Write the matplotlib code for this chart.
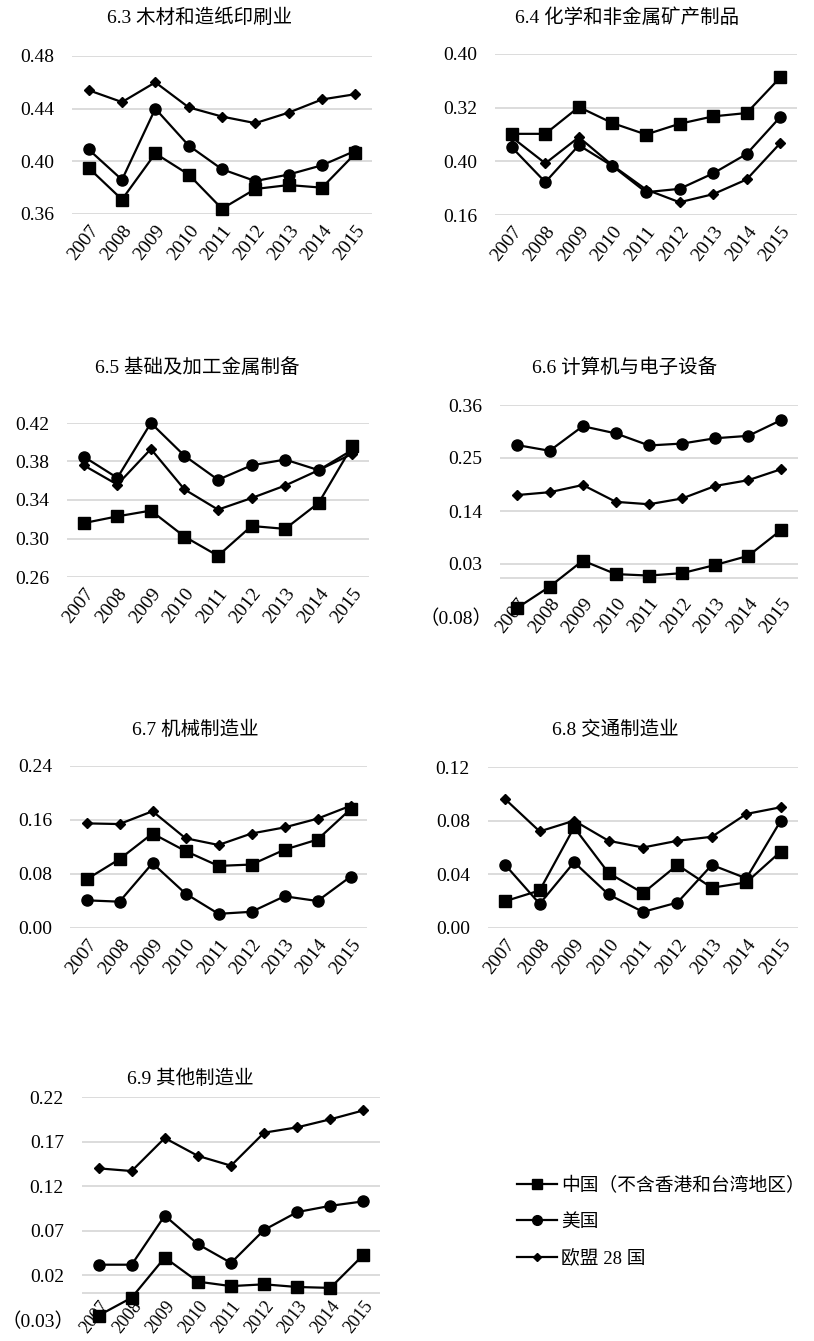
import matplotlib.pyplot as plt
from matplotlib.lines import Line2D
from matplotlib.transforms import ScaledTranslation

plt.rcParams['font.family'] = ['Liberation Serif', 'Noto Sans CJK SC']

years = ['2007', '2008', '2009', '2010', '2011', '2012', '2013', '2014', '2015']

# 6.3 木材和造纸印刷业
wood_cn = [0.395, 0.371, 0.406, 0.390, 0.364, 0.379, 0.382, 0.380, 0.406]
wood_us = [0.409, 0.386, 0.440, 0.412, 0.394, 0.385, 0.390, 0.397, 0.408]
wood_eu = [0.454, 0.445, 0.460, 0.441, 0.434, 0.429, 0.437, 0.447, 0.451]

# 6.4 化学和非金属矿产制品
chem_cn = [0.281, 0.281, 0.321, 0.297, 0.280, 0.296, 0.307, 0.312, 0.365]
chem_us = [0.261, 0.209, 0.264, 0.233, 0.194, 0.199, 0.222, 0.251, 0.306]
chem_eu = [0.276, 0.237, 0.276, 0.234, 0.198, 0.179, 0.191, 0.213, 0.267]

# 6.5 基础及加工金属制备
metal_cn = [0.316, 0.323, 0.329, 0.302, 0.282, 0.313, 0.310, 0.337, 0.396]
metal_us = [0.385, 0.363, 0.420, 0.386, 0.361, 0.376, 0.382, 0.371, 0.392]
metal_eu = [0.376, 0.356, 0.393, 0.351, 0.330, 0.342, 0.355, 0.371, 0.388]

# 6.6 计算机与电子设备
elec_cn = [-0.062, -0.017, 0.037, 0.009, 0.006, 0.011, 0.028, 0.047, 0.101]
elec_us = [0.277, 0.265, 0.316, 0.301, 0.276, 0.280, 0.291, 0.296, 0.329]
elec_eu = [0.173, 0.179, 0.194, 0.159, 0.154, 0.166, 0.192, 0.204, 0.227]

# 6.7 机械制造业
mach_cn = [0.072, 0.102, 0.140, 0.114, 0.092, 0.094, 0.116, 0.131, 0.176]
mach_us = [0.041, 0.039, 0.096, 0.051, 0.021, 0.024, 0.047, 0.040, 0.076]
mach_eu = [0.155, 0.154, 0.173, 0.133, 0.123, 0.140, 0.149, 0.162, 0.181]

# 6.8 交通制造业
trans_cn = [0.020, 0.028, 0.075, 0.041, 0.026, 0.047, 0.030, 0.034, 0.057]
trans_us = [0.047, 0.018, 0.049, 0.025, 0.012, 0.019, 0.047, 0.037, 0.080]
trans_eu = [0.096, 0.072, 0.080, 0.065, 0.060, 0.065, 0.068, 0.085, 0.090]

# 6.9 其他制造业
other_cn = [-0.025, -0.005, 0.040, 0.013, 0.008, 0.010, 0.007, 0.006, 0.043]
other_us = [0.032, 0.032, 0.087, 0.055, 0.034, 0.071, 0.091, 0.098, 0.103]
other_eu = [0.140, 0.137, 0.174, 0.154, 0.143, 0.180, 0.186, 0.195, 0.205]

series_names = ['中国（不含香港和台湾地区）', '美国', '欧盟 28 国']

W, H = 814, 1341
fig = plt.figure(figsize=(W / 100, H / 100), dpi=100, facecolor='white')

# panel layout in pixels: axes box (x0, x1, ytop, ybottom), title centre,
# x-label pad (pt) and x-label size
panels = [
    dict(title='6.3 木材和造纸印刷业', data=(wood_cn, wood_us, wood_eu),
         ticks=[0.36, 0.40, 0.44, 0.48], labels=['0.36', '0.40', '0.44', '0.48'],
         grid=[0.36, 0.40, 0.44, 0.48], box=(72, 372, 56, 214), tpos=(200, 18), xpad=6, xsize=14),
    dict(title='6.4 化学和非金属矿产制品', data=(chem_cn, chem_us, chem_eu),
         ticks=[0.16, 0.24, 0.32, 0.40], labels=['0.16', '0.40', '0.32', '0.40'],
         grid=[0.16, 0.24, 0.32, 0.40], box=(495, 797, 54, 215), tpos=(627, 18), xpad=6, xsize=14),
    dict(title='6.5 基础及加工金属制备', data=(metal_cn, metal_us, metal_eu),
         ticks=[0.26, 0.30, 0.34, 0.38, 0.42], labels=['0.26', '0.30', '0.34', '0.38', '0.42'],
         grid=[0.26, 0.30, 0.34, 0.38, 0.42], box=(67, 369, 423, 577), tpos=(197, 368), xpad=6, xsize=14),
    dict(title='6.6 计算机与电子设备', data=(elec_cn, elec_us, elec_eu),
         ticks=[-0.08, 0.03, 0.14, 0.25, 0.36], labels=['（0.08）', '0.03', '0.14', '0.25', '0.36'],
         grid=[0.0, 0.03, 0.14, 0.25, 0.36], box=(500, 798, 405, 617), tpos=(625, 368), xpad=-16, xsize=14),
    dict(title='6.7 机械制造业', data=(mach_cn, mach_us, mach_eu),
         ticks=[0.00, 0.08, 0.16, 0.24], labels=['0.00', '0.08', '0.16', '0.24'],
         grid=[0.00, 0.08, 0.16, 0.24], box=(70, 367, 766, 928), tpos=(195, 730), xpad=6, xsize=14),
    dict(title='6.8 交通制造业', data=(trans_cn, trans_us, trans_eu),
         ticks=[0.00, 0.04, 0.08, 0.12], labels=['0.00', '0.04', '0.08', '0.12'],
         grid=[0.00, 0.04, 0.08, 0.12], box=(488, 798, 767, 928), tpos=(615, 730), xpad=6, xsize=14),
    dict(title='6.9 其他制造业', data=(other_cn, other_us, other_eu),
         ticks=[-0.03, 0.02, 0.07, 0.12, 0.17, 0.22], labels=['（0.03）', '0.02', '0.07', '0.12', '0.17', '0.22'],
         grid=[0.0, 0.02, 0.07, 0.12, 0.17, 0.22], box=(82, 380, 1097, 1320), tpos=(190, 1079), xpad=-16, xsize=13),
]

styles = [dict(marker='s', ms=8.5), dict(marker='o', ms=8), dict(marker='D', ms=5)]

x = list(range(len(years)))
for p in panels:
    x0, x1, yt, yb = p['box']
    ax = fig.add_axes([x0 / W, 1 - yb / H, (x1 - x0) / W, (yb - yt) / H])
    for g in p['grid']:
        ax.axhline(g, color='#d9d9d9', lw=1.3, zorder=1)
    for vals, st in zip(p['data'], styles):
        ax.plot(x, vals, color='black', lw=1.6, mec='black', mfc='black',
                zorder=3, clip_on=False, **st)
    ax.set_xlim(-0.5, len(years) - 0.5)
    ax.set_ylim(p['ticks'][0], p['ticks'][-1])
    ax.set_yticks(p['ticks'], p['labels'])
    ax.set_xticks(x, years)
    plt.setp(ax.get_xticklabels(), rotation=52, ha='right', rotation_mode='anchor')
    ax.tick_params(axis='y', length=0, pad=13, labelsize=14)
    ax.tick_params(axis='x', length=0, pad=p['xpad'], labelsize=p['xsize'])
    # negative values in brackets sit a little further right
    for lab in ax.get_yticklabels():
        if lab.get_text().startswith('（'):
            lab.set_transform(lab.get_transform() + ScaledTranslation(0.11, 0, fig.dpi_scale_trans))
    for s in ax.spines.values():
        s.set_visible(False)
    ax.patch.set_alpha(0)
    fig.text(p['tpos'][0] / W, 1 - p['tpos'][1] / H, p['title'],
             ha='center', va='center', fontsize=14)

handles = [Line2D([], [], color='black', lw=1.6, **st) for st in styles]
handles[0].set_markersize(7)
handles[1].set_markersize(7)
handles[2].set_markersize(4.5)
fig.legend(handles, series_names, loc='upper left', bbox_to_anchor=(517 / W, 1 - 1177 / H),
           frameon=False, fontsize=13.5, borderpad=0, borderaxespad=0, handlelength=2.15,
           handletextpad=0.2, labelspacing=1.0)

fig.savefig('out.png', dpi=100, facecolor='white')
